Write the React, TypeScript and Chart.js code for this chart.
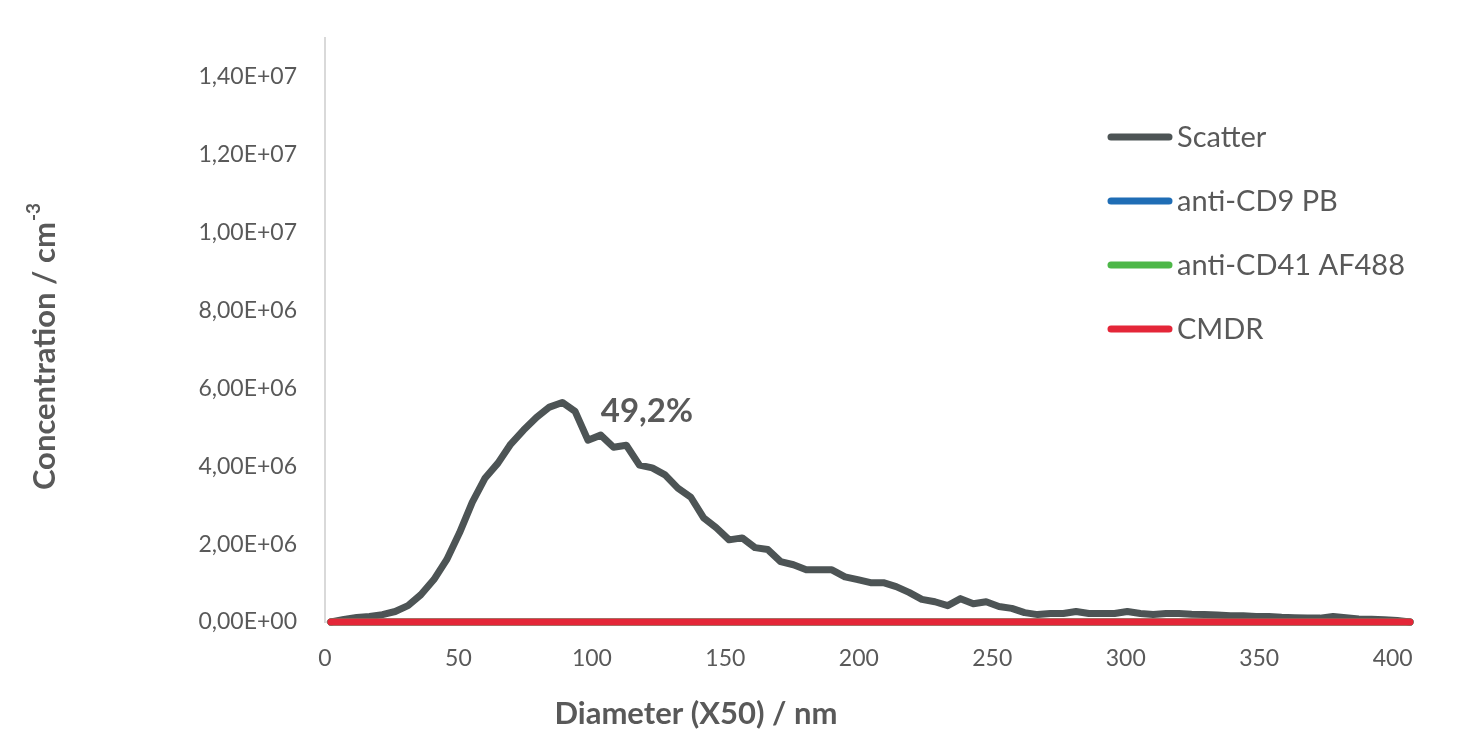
import React, { useEffect, useRef } from "react";
import { Chart, registerables } from "chart.js";

Chart.register(...registerables);

// Diameter (X50) in nm
const diameters = [
  2.2, 7.1, 11.9, 16.7, 21.5, 26.3, 31.1, 35.9, 40.8, 45.6,
  50.4, 55.2, 60.0, 64.8, 69.6, 74.4, 79.3, 84.1, 88.9, 93.7,
  98.5, 103.3, 108.1, 112.9, 117.8, 122.6, 127.4, 132.2, 137.0, 141.8,
  146.6, 151.4, 156.3, 161.1, 165.9, 170.7, 175.5, 180.3, 185.1, 189.9,
  194.8, 199.6, 204.4, 209.2, 214.0, 218.8, 223.6, 228.5, 233.3, 238.1,
  242.9, 247.7, 252.5, 257.3, 262.1, 267.0, 271.8, 276.6, 281.4, 286.2,
  291.0, 295.8, 300.6, 305.5, 310.3, 315.1, 319.9, 324.7, 329.5, 334.3,
  339.2, 344.0, 348.8, 353.6, 358.4, 363.2, 368.0, 372.8, 377.7, 382.5,
  387.3, 392.1, 396.9, 401.7, 406.5,
];

// Concentration / cm^-3
const scatterValues = [
  0, 6.4e4, 1.15e5, 1.4e5, 1.9e5, 2.7e5, 4.2e5, 7.0e5, 1.09e6, 1.6e6,
  2.29e6, 3.08e6, 3.7e6, 4.08e6, 4.57e6, 4.93e6, 5.26e6, 5.52e6, 5.64e6, 5.41e6,
  4.67e6, 4.8e6, 4.49e6, 4.54e6, 4.03e6, 3.96e6, 3.78e6, 3.44e6, 3.21e6, 2.68e6,
  2.42e6, 2.11e6, 2.16e6, 1.91e6, 1.86e6, 1.55e6, 1.47e6, 1.34e6, 1.34e6, 1.34e6,
  1.16e6, 1.09e6, 1.01e6, 1.01e6, 9.1e5, 7.6e5, 5.8e5, 5.2e5, 4.2e5, 6.0e5,
  4.7e5, 5.2e5, 4.0e5, 3.5e5, 2.4e5, 1.9e5, 2.2e5, 2.2e5, 2.7e5, 2.2e5,
  2.2e5, 2.2e5, 2.7e5, 2.2e5, 1.9e5, 2.2e5, 2.2e5, 2.0e5, 1.9e5, 1.8e5,
  1.6e5, 1.6e5, 1.4e5, 1.4e5, 1.2e5, 1.1e5, 1.0e5, 1.0e5, 1.4e5, 1.1e5,
  8.0e4, 7.0e4, 6.0e4, 4.0e4, 0,
];

const cd9Values = [
  0, 0, 0, 0, 0, 0, 0, 0, 0, 0, 0, 0, 0, 0, 0, 0, 0, 0, 0, 0, 0,
  0, 0, 0, 0, 0, 0, 0, 0, 0, 0, 0, 0, 0, 0, 0, 0, 0, 0, 0, 0, 0,
  0, 0, 0, 0, 0, 0, 0, 0, 0, 0, 0, 0, 0, 0, 0, 0, 0, 0, 0, 0, 0,
  0, 0, 0, 0, 0, 0, 0, 0, 0, 0, 0, 0, 0, 0, 0, 0, 0, 0, 0, 0, 0, 0,
];

const cd41Values = [
  0, 0, 0, 0, 0, 0, 0, 0, 0, 0, 0, 0, 0, 0, 0, 0, 0, 0, 0, 0, 0,
  0, 0, 0, 0, 0, 0, 0, 0, 0, 0, 0, 0, 0, 0, 0, 0, 0, 0, 0, 0, 0,
  0, 0, 0, 0, 0, 0, 0, 0, 0, 0, 0, 0, 0, 0, 0, 0, 0, 0, 0, 0, 0,
  0, 0, 0, 0, 0, 0, 0, 0, 0, 0, 0, 0, 0, 0, 0, 0, 0, 0, 0, 0, 0, 0,
];

const cmdrValues = [
  0, 0, 0, 0, 0, 0, 0, 0, 0, 0, 0, 0, 0, 0, 0, 0, 0, 0, 0, 0, 0,
  0, 0, 0, 0, 0, 0, 0, 0, 0, 0, 0, 0, 0, 0, 0, 0, 0, 0, 0, 0, 0,
  0, 0, 0, 0, 0, 0, 0, 0, 0, 0, 0, 0, 0, 0, 0, 0, 0, 0, 0, 0, 0,
  0, 0, 0, 0, 0, 0, 0, 0, 0, 0, 0, 0, 0, 0, 0, 0, 0, 0, 0, 0, 0, 0,
];

const seriesNames = ["Scatter", "anti-CD9 PB", "anti-CD41 AF488", "CMDR"];
const seriesColors = ["#4d5455", "#1f6db5", "#4db748", "#e42638"];

const xTicks = [0, 50, 100, 150, 200, 250, 300, 350, 400];
const yTicks = [0, 2e6, 4e6, 6e6, 8e6, 1e7, 1.2e7, 1.4e7];

const xTitle = "Diameter (X50) / nm";
const yTitle = "Concentration / cm";
const yTitleSup = "-3";
const annotationText = "49,2%";
const annotationX = 120.6;
const annotationY = 5.41e6;

const TEXT = "#595959";
const FONT = "Lato, 'Open Sans', sans-serif";

function formatSci(v: number): string {
  const [m, e] = v.toExponential(2).split("e");
  const sign = e.startsWith("-") ? "-" : "+";
  const digits = e.replace(/^[+-]/, "").padStart(2, "0");
  return m.replace(".", ",") + "E" + sign + digits;
}

const overlayPlugin = {
  id: "overlay",
  afterDraw(chart: any) {
    const ctx: CanvasRenderingContext2D = chart.ctx;
    ctx.save();
    // legend
    chart.data.datasets.forEach((ds: any, i: number) => {
      const y = 129 + i * 64;
      ctx.strokeStyle = ds.borderColor;
      ctx.lineWidth = 7;
      ctx.lineCap = "round";
      ctx.beginPath();
      ctx.moveTo(1103, y);
      ctx.lineTo(1161, y);
      ctx.stroke();
      ctx.fillStyle = TEXT;
      ctx.font = `29px ${FONT}`;
      ctx.textAlign = "left";
      ctx.textBaseline = "middle";
      ctx.fillText(ds.label, 1169, y + 1);
    });

    // annotation
    const ax = chart.scales.x.getPixelForValue(annotationX);
    const ay = chart.scales.y.getPixelForValue(annotationY);
    ctx.fillStyle = TEXT;
    ctx.font = `bold 33px ${FONT}`;
    ctx.textAlign = "center";
    ctx.textBaseline = "middle";
    ctx.fillText(annotationText, ax, ay);

    // x title
    ctx.font = `bold 31px ${FONT}`;
    ctx.fillText(xTitle, 688, 706);

    // y title
    ctx.translate(37, 339);
    ctx.rotate(-Math.PI / 2);
    ctx.font = `bold 31px ${FONT}`;
    const w1 = ctx.measureText(yTitle).width;
    ctx.font = `bold 19px ${FONT}`;
    const w2 = ctx.measureText(yTitleSup).width;
    const start = -(w1 + w2) / 2;
    ctx.textAlign = "left";
    ctx.font = `bold 31px ${FONT}`;
    ctx.fillText(yTitle, start, 0);
    ctx.font = `bold 19px ${FONT}`;
    ctx.fillText(yTitleSup, start + w1 + 1, -11);
    ctx.restore();
  },
};

export default function App() {
  const canvasRef = useRef<HTMLCanvasElement | null>(null);

  useEffect(() => {
    if (!canvasRef.current) return;
    const seriesData = [scatterValues, cd9Values, cd41Values, cmdrValues];
    const datasets = seriesNames.map((name, i) => ({
      label: name,
      data: diameters.map((d, j) => ({ x: d, y: seriesData[i][j] })),
      borderColor: seriesColors[i],
      backgroundColor: seriesColors[i],
      borderWidth: 7,
      pointRadius: 0,
      tension: 0,
      borderCapStyle: "round" as const,
      borderJoinStyle: "round" as const,
      fill: false,
      clip: 12,
      order: 3 - i,
    }));

    const chart = new Chart(canvasRef.current, {
      type: "line",
      data: { datasets },
      options: {
        animation: false,
        responsive: true,
        maintainAspectRatio: false,
        layout: { padding: { top: 30, right: 64, bottom: 0, left: 0 } },
        plugins: {
          legend: { display: false },
          tooltip: { enabled: false },
        },
        scales: {
          x: {
            type: "linear",
            min: 0,
            max: 406.5,
            grid: { display: false, drawTicks: false },
            border: { display: true, color: "#d9d9d9", width: 2 },
            afterBuildTicks: (scale: any) => {
              scale.ticks = xTicks.map((v) => ({ value: v }));
            },
            afterFit: (scale: any) => {
              scale.height = 116;
              scale.paddingLeft = 0;
              scale.paddingRight = 0;
            },
            ticks: {
              color: TEXT,
              font: { family: FONT, size: 23 },
              padding: 23,
              maxRotation: 0,
              callback: (v: any) => String(v),
            },
          },
          y: {
            type: "linear",
            min: 0,
            max: 1.5e7,
            grid: { display: false, drawTicks: false },
            border: { display: true, color: "#d9d9d9", width: 2 },
            afterBuildTicks: (scale: any) => {
              scale.ticks = yTicks.map((v) => ({ value: v }));
            },
            afterFit: (scale: any) => {
              scale.width = 317;
              scale.paddingTop = 0;
              scale.paddingBottom = 0;
            },
            ticks: {
              color: TEXT,
              font: { family: FONT, size: 23 },
              padding: 28,
              callback: (v: any) => formatSci(Number(v)),
            },
          },
        },
      },
      plugins: [overlayPlugin],
    });
    return () => chart.destroy();
  }, []);

  return (
    <div style={{ position: "relative", width: "1466px", height: "730px" }}>
      <canvas ref={canvasRef} />
    </div>
  );
}
